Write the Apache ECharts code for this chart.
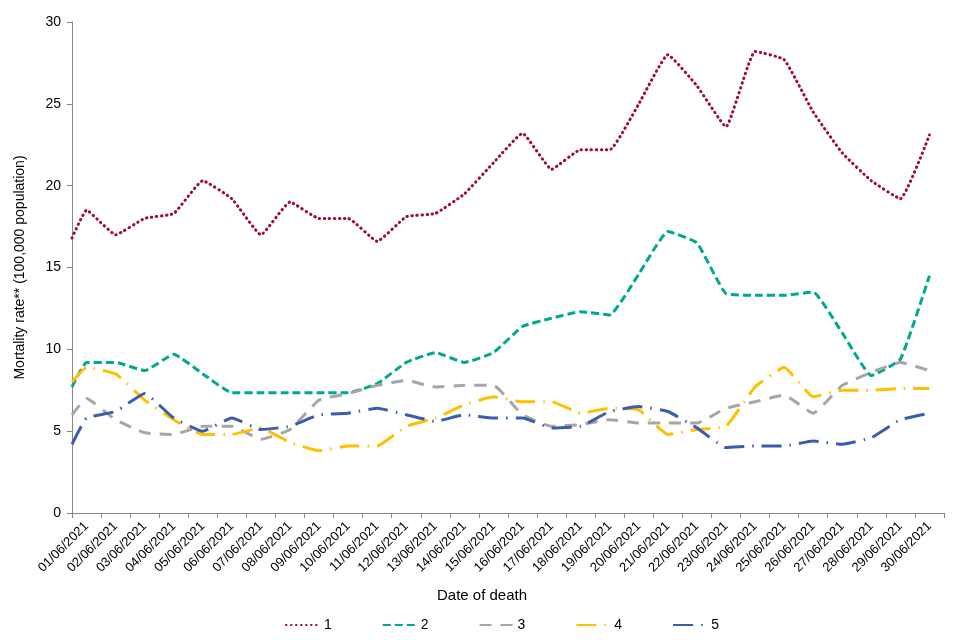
<!DOCTYPE html>
<html>
<head>
<meta charset="utf-8">
<script src="https://cdn.jsdelivr.net/npm/echarts@6/dist/echarts.min.js"></script>
<style>
html,body{margin:0;padding:0;background:#fff;}
#chart{width:960px;height:640px;}
</style>
</head>
<body>
<div id="chart"></div>
<script>
const categories = ['01/06/2021','02/06/2021','03/06/2021','04/06/2021','05/06/2021','06/06/2021','07/06/2021','08/06/2021','09/06/2021','10/06/2021','11/06/2021','12/06/2021','13/06/2021','14/06/2021','15/06/2021','16/06/2021','17/06/2021','18/06/2021','19/06/2021','20/06/2021','21/06/2021','22/06/2021','23/06/2021','24/06/2021','25/06/2021','26/06/2021','27/06/2021','28/06/2021','29/06/2021','30/06/2021'];
const seriesNames = ['1','2','3','4','5'];
// value where each line enters at the left edge of the plot
const startValues = [16.8, 7.7, 6.0, 8.0, 4.2];
const s1 = [18.5,17.0,18.0,18.3,20.3,19.2,17.0,19.0,18.0,18.0,16.6,18.1,18.3,19.5,21.4,23.2,21.0,22.2,22.2,25.0,28.0,26.1,23.6,28.2,27.7,24.5,22.0,20.3,19.2,23.1];
const s2 = [9.2,9.2,8.7,9.7,8.5,7.35,7.35,7.35,7.35,7.35,7.9,9.2,9.8,9.2,9.8,11.4,11.9,12.3,12.1,14.6,17.2,16.5,13.4,13.3,13.3,13.5,11.0,8.4,9.4,14.5];
const s3 = [7.0,5.7,4.9,4.8,5.3,5.3,4.5,5.1,6.9,7.3,7.8,8.1,7.7,7.8,7.8,6.0,5.3,5.4,5.7,5.5,5.5,5.5,6.4,6.8,7.2,6.1,7.8,8.6,9.2,8.7];
const s4 = [8.9,8.5,6.9,5.7,4.8,4.8,5.2,4.3,3.8,4.1,4.1,5.3,5.8,6.6,7.1,6.8,6.8,6.1,6.4,6.3,4.8,5.1,5.3,7.7,8.9,7.1,7.5,7.5,7.6,7.6];
const s5 = [5.8,6.2,7.3,5.8,5.0,5.8,5.1,5.3,6.0,6.1,6.4,6.0,5.6,6.0,5.8,5.8,5.2,5.3,6.2,6.5,6.2,5.2,4.0,4.1,4.1,4.4,4.2,4.6,5.7,6.1];
const yTicks = {min: 0, max: 30, interval: 5};

const allValues = [s1, s2, s3, s4, s5];
const colors = ['#9E0B3F', '#00A88F', '#A6A6A6', '#FFC000', '#3A5DAE'];
const dashTypes = [[0.5, 4.5], [8, 4], [12, 9], [20, 8, 1.5, 8], [20, 8, 1.5, 8]];
const caps = ['round', 'butt', 'butt', 'butt', 'butt'];
const widths = [3, 3, 3, 3, 3];

function buildData(i) {
  const d = [[-0.5, startValues[i]]];
  allValues[i].forEach((v, k) => d.push([k, v]));
  return d;
}

const FONT = '"Liberation Sans", Arial, sans-serif';
const chart = echarts.init(document.getElementById('chart'));
chart.setOption({
  animation: false,
  backgroundColor: '#ffffff',
  grid: {left: 72, right: 16, top: 22, bottom: 127, containLabel: false},
  legend: {
    data: seriesNames,
    left: 280,
    top: 613,
    itemWidth: 33,
    itemHeight: 14,
    itemGap: 50,
    itemStyle: {opacity: 0},
    textStyle: {fontFamily: FONT, fontSize: 14, color: '#000'}
  },
  xAxis: [
    {
      type: 'category',
      data: categories,
      boundaryGap: true,
      name: 'Date of death',
      nameLocation: 'middle',
      nameGap: 75,
      nameTextStyle: {fontFamily: FONT, fontSize: 15, color: '#000', padding: [0, 52, 0, 0]},
      axisLine: {lineStyle: {color: '#868686', width: 1}},
      axisTick: {show: true, length: 5, alignWithLabel: false, lineStyle: {color: '#868686'}},
      axisLabel: {rotate: 45, margin: 11, interval: 0, fontFamily: FONT, fontSize: 13, color: '#000'},
      splitLine: {show: false}
    },
    {
      type: 'value',
      min: -0.5,
      max: categories.length - 0.5,
      show: false
    }
  ],
  yAxis: {
    type: 'value',
    min: yTicks.min,
    max: yTicks.max,
    interval: yTicks.interval,
    name: 'Mortality rate** (100,000 population)',
    nameLocation: 'middle',
    nameGap: 45,
    nameTextStyle: {fontFamily: FONT, fontSize: 14, color: '#000'},
    axisLine: {show: true, onZero: false, lineStyle: {color: '#868686', width: 1}},
    axisTick: {show: true, length: 5, lineStyle: {color: '#868686'}},
    axisLabel: {margin: 11, fontFamily: FONT, fontSize: 14, color: '#000'},
    splitLine: {show: false}
  },
  series: seriesNames.map((name, i) => ({
    name: name,
    type: 'line',
    xAxisIndex: 1,
    data: buildData(i),
    smooth: 0.12,
    showSymbol: false,
    symbol: 'none',
    color: colors[i],
    lineStyle: {color: colors[i], width: widths[i], type: dashTypes[i], cap: caps[i]},
    z: 2 + i
  }))
});
</script>
</body>
</html>
